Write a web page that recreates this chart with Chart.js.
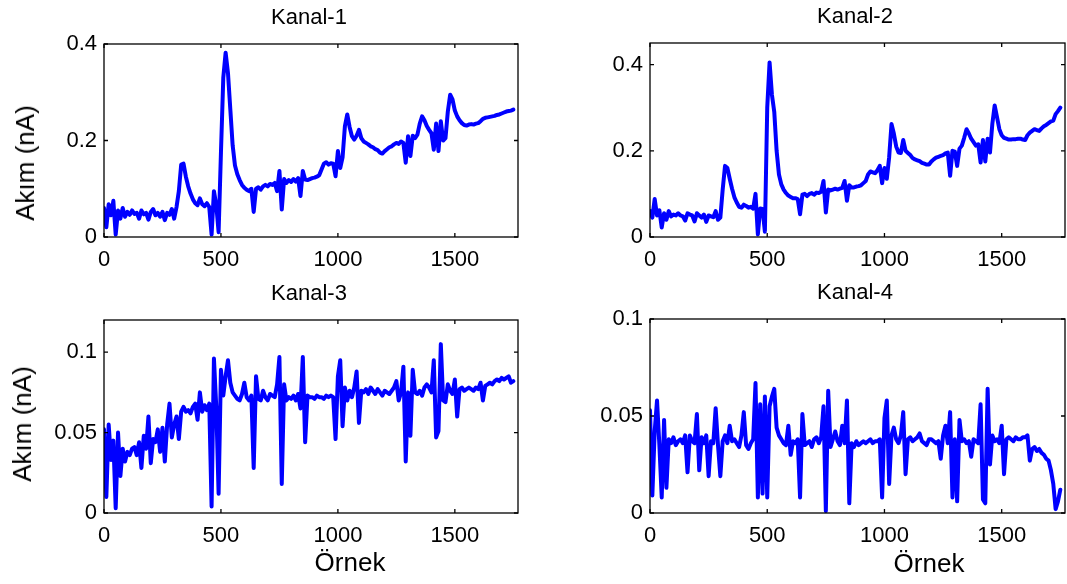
<!DOCTYPE html>
<html>
<head>
<meta charset="utf-8">
<script src="https://cdn.jsdelivr.net/npm/chart.js@4.4.0/dist/chart.umd.min.js"></script>
<style>
  body { margin: 0; background: #fff; width: 1067px; height: 584px; overflow: hidden; position: relative;
         font-family: "Liberation Sans", Arial, sans-serif; color: #000; }
  canvas { position: absolute; }
  .lbl { position: absolute; white-space: nowrap; line-height: 1; transform: translate(-50%, -50%); }
  .rot { transform: translate(-50%, -50%) rotate(-90deg); }
</style>
</head>
<body>
<script>
// sample index (Örnek), one reading every 10 samples
const samples = Array.from({ length: 176 }, (_, i) => i * 10);

const xTicks = [0, 500, 1000, 1500];
const yTicks12 = [0, 0.2, 0.4];
const yTicks3 = [0, 0.05, 0.1];
const yTicks4 = [0, 0.05, 0.1];

const titles = ["Kanal-1", "Kanal-2", "Kanal-3", "Kanal-4"];

// Kanal-1 akım (nA)
const kanal1 = [
  0.060, 0.020, 0.068, 0.045, 0.075, 0.005, 0.055, 0.038, 0.060, 0.042,
  0.052, 0.046, 0.055, 0.048, 0.050, 0.038, 0.055, 0.047, 0.050, 0.036,
  0.052, 0.058, 0.045, 0.050, 0.042, 0.052, 0.035, 0.050, 0.046, 0.058,
  0.038, 0.062, 0.095, 0.150, 0.152, 0.125, 0.105, 0.090, 0.078, 0.070,
  0.066, 0.080, 0.068, 0.064, 0.070, 0.062, 0.005, 0.095, 0.066, 0.010,
  0.175, 0.330, 0.382, 0.340, 0.265, 0.190, 0.148, 0.130, 0.118, 0.108,
  0.102, 0.098, 0.095, 0.100, 0.052, 0.100, 0.103, 0.098, 0.105, 0.108,
  0.105, 0.110, 0.108, 0.112, 0.095, 0.137, 0.057, 0.120, 0.112, 0.118,
  0.114, 0.120, 0.115, 0.122, 0.085, 0.137, 0.119, 0.118, 0.120, 0.122,
  0.123, 0.125, 0.128, 0.140, 0.152, 0.155, 0.150, 0.153, 0.152, 0.126,
  0.178, 0.143, 0.165, 0.230, 0.254, 0.228, 0.209, 0.202, 0.210, 0.222,
  0.205, 0.198, 0.195, 0.192, 0.188, 0.186, 0.182, 0.180, 0.175, 0.173,
  0.178, 0.182, 0.186, 0.188, 0.192, 0.195, 0.193, 0.198, 0.195, 0.154,
  0.209, 0.168, 0.210, 0.205, 0.212, 0.235, 0.250, 0.242, 0.230, 0.222,
  0.215, 0.181, 0.235, 0.178, 0.240, 0.200, 0.205, 0.260, 0.295, 0.285,
  0.262, 0.250, 0.242, 0.236, 0.232, 0.231, 0.233, 0.234, 0.233, 0.235,
  0.236, 0.240, 0.245, 0.247, 0.248, 0.249, 0.250, 0.251, 0.253, 0.254,
  0.256, 0.258, 0.260, 0.261, 0.262, 0.264
];

// Kanal-2
const kanal2 = [
  0.060, 0.045, 0.088, 0.050, 0.062, 0.022, 0.055, 0.040, 0.060, 0.048,
  0.052, 0.050, 0.055, 0.050, 0.048, 0.038, 0.055, 0.052, 0.050, 0.036,
  0.055, 0.050, 0.045, 0.052, 0.035, 0.050, 0.048, 0.046, 0.060, 0.040,
  0.045, 0.110, 0.165, 0.160, 0.135, 0.112, 0.092, 0.080, 0.070, 0.068,
  0.075, 0.072, 0.068, 0.070, 0.066, 0.100, 0.006, 0.066, 0.065, 0.012,
  0.300, 0.405, 0.330, 0.290, 0.200, 0.145, 0.122, 0.110, 0.102, 0.096,
  0.093, 0.090, 0.090, 0.088, 0.053, 0.098, 0.100, 0.095, 0.100, 0.102,
  0.098, 0.103, 0.102, 0.105, 0.130, 0.057, 0.110, 0.108, 0.110, 0.112,
  0.110, 0.112, 0.114, 0.130, 0.084, 0.120, 0.115, 0.115, 0.117, 0.118,
  0.120, 0.125, 0.130, 0.145, 0.152, 0.150, 0.148, 0.155, 0.165, 0.125,
  0.160, 0.135, 0.185, 0.262, 0.240, 0.210, 0.196, 0.195, 0.225, 0.200,
  0.195, 0.190, 0.183, 0.180, 0.178, 0.176, 0.172, 0.170, 0.168, 0.168,
  0.175, 0.180, 0.184, 0.186, 0.188, 0.190, 0.194, 0.196, 0.142, 0.200,
  0.198, 0.165, 0.205, 0.212, 0.230, 0.250, 0.240, 0.228, 0.220, 0.212,
  0.215, 0.173, 0.225, 0.175, 0.228, 0.196, 0.262, 0.305, 0.278, 0.250,
  0.236, 0.230, 0.228, 0.226, 0.226, 0.227, 0.227, 0.228, 0.228, 0.226,
  0.225, 0.236, 0.242, 0.246, 0.250, 0.248, 0.246, 0.252, 0.257, 0.260,
  0.264, 0.268, 0.270, 0.285, 0.292, 0.300
];

// Kanal-3
const kanal3 = [
  0.052, 0.010, 0.055, 0.033, 0.045, 0.003, 0.050, 0.023, 0.040, 0.032,
  0.038, 0.036, 0.040, 0.041, 0.036, 0.044, 0.028, 0.048, 0.040, 0.060,
  0.031, 0.046, 0.044, 0.052, 0.038, 0.053, 0.032, 0.055, 0.068, 0.047,
  0.055, 0.060, 0.046, 0.063, 0.066, 0.063, 0.064, 0.062, 0.066, 0.068,
  0.058, 0.075, 0.063, 0.067, 0.064, 0.068, 0.004, 0.096, 0.066, 0.012,
  0.089, 0.073, 0.085, 0.095, 0.081, 0.075, 0.073, 0.071, 0.070, 0.074,
  0.081, 0.072, 0.070, 0.073, 0.028, 0.085, 0.071, 0.070, 0.076, 0.072,
  0.070, 0.074, 0.073, 0.072, 0.080, 0.097, 0.018, 0.080, 0.070, 0.072,
  0.071, 0.073, 0.070, 0.074, 0.065, 0.097, 0.044, 0.073, 0.072, 0.072,
  0.071, 0.073, 0.072, 0.072, 0.071, 0.073, 0.072, 0.073, 0.072, 0.046,
  0.085, 0.095, 0.054, 0.078, 0.070, 0.076, 0.072, 0.078, 0.088, 0.056,
  0.076, 0.075, 0.077, 0.074, 0.078, 0.076, 0.074, 0.077, 0.075, 0.073,
  0.076, 0.075, 0.074, 0.076, 0.078, 0.082, 0.070, 0.075, 0.091, 0.032,
  0.075, 0.048, 0.089, 0.075, 0.074, 0.076, 0.073, 0.078, 0.080, 0.078,
  0.075, 0.095, 0.047, 0.051, 0.105, 0.070, 0.069, 0.080, 0.076, 0.074,
  0.083, 0.060, 0.077, 0.078, 0.076, 0.077, 0.078, 0.077, 0.076, 0.078,
  0.077, 0.081, 0.070, 0.079, 0.080, 0.081, 0.080, 0.082, 0.083, 0.082,
  0.084, 0.083, 0.084, 0.085, 0.081, 0.082
];

// Kanal-4
const kanal4 = [
  0.053, 0.009, 0.042, 0.058, 0.035, 0.008, 0.048, 0.013, 0.038, 0.036,
  0.039, 0.035, 0.037, 0.038, 0.036, 0.040, 0.021, 0.040, 0.037, 0.036,
  0.051, 0.022, 0.039, 0.036, 0.040, 0.019, 0.037, 0.036, 0.054, 0.035,
  0.019, 0.037, 0.040, 0.036, 0.045, 0.037, 0.038, 0.036, 0.034, 0.040,
  0.052, 0.035, 0.033, 0.036, 0.038, 0.067, 0.008, 0.056, 0.010, 0.060,
  0.008, 0.055, 0.060, 0.064, 0.044, 0.040, 0.038, 0.036, 0.035, 0.045,
  0.030, 0.037, 0.036, 0.038, 0.008, 0.051, 0.035, 0.036, 0.037, 0.034,
  0.038, 0.039, 0.036, 0.039, 0.055, 0.001, 0.063, 0.034, 0.038, 0.042,
  0.037, 0.035, 0.045, 0.036, 0.058, 0.005, 0.036, 0.034, 0.037, 0.035,
  0.036, 0.037, 0.036, 0.037, 0.038, 0.036, 0.037, 0.037, 0.038, 0.008,
  0.049, 0.058, 0.015, 0.040, 0.044, 0.038, 0.036, 0.040, 0.052, 0.020,
  0.038, 0.039, 0.037, 0.038, 0.039, 0.041, 0.037, 0.036, 0.035, 0.038,
  0.038, 0.037, 0.036, 0.037, 0.028, 0.040, 0.045, 0.036, 0.052, 0.008,
  0.038, 0.006, 0.048, 0.037, 0.038, 0.036, 0.037, 0.029, 0.038, 0.037,
  0.036, 0.056, 0.007, 0.005, 0.064, 0.025, 0.040, 0.037, 0.038, 0.036,
  0.045, 0.020, 0.038, 0.039, 0.038, 0.037, 0.039, 0.038, 0.038, 0.039,
  0.039, 0.040, 0.027, 0.033, 0.034, 0.032, 0.033, 0.031, 0.030, 0.028,
  0.027, 0.022, 0.015, 0.002, 0.006, 0.012
];

// --- layout (pixel boxes of each plot area) ---
const YAXIS_W = 104, XAXIS_H = 50, PAD_TOP = 24, PAD_RIGHT = 6;
const FONT = '"Liberation Sans", Arial, sans-serif';

const panels = [
  { data: kanal1, title: titles[0], yMax: 0.4,  yTicks: yTicks12, box: [104, 44, 518, 237], tx: 309, ylab: [25, 163], xlab: null },
  { data: kanal2, title: titles[1], yMax: 0.45, yTicks: yTicks12, box: [650, 43, 1065, 237], tx: 855, ylab: null, xlab: null },
  { data: kanal3, title: titles[2], yMax: 0.12, yTicks: yTicks3,  box: [104, 320, 518, 513], tx: 309, ylab: [22, 424], xlab: [350, 562] },
  { data: kanal4, title: titles[3], yMax: 0.1,  yTicks: yTicks4,  box: [650, 319, 1065, 513], tx: 855, ylab: null, xlab: [929, 563] }
];

// MATLAB style box with inward ticks on all four sides
const matlabBox = {
  id: "matlabBox",
  afterDatasetsDraw(chart) {
    const { ctx, chartArea: a, scales: { x, y } } = chart;
    ctx.save();
    ctx.strokeStyle = "#000";
    ctx.lineWidth = 1.3;
    ctx.strokeRect(a.left, a.top, a.right - a.left, a.bottom - a.top);
    ctx.beginPath();
    x.ticks.forEach(t => {
      const px = x.getPixelForValue(t.value);
      ctx.moveTo(px, a.bottom); ctx.lineTo(px, a.bottom - 4);
      ctx.moveTo(px, a.top); ctx.lineTo(px, a.top + 4);
    });
    y.ticks.forEach(t => {
      const py = y.getPixelForValue(t.value);
      ctx.moveTo(a.left, py); ctx.lineTo(a.left + 4, py);
      ctx.moveTo(a.right, py); ctx.lineTo(a.right - 4, py);
    });
    ctx.stroke();
    ctx.restore();
  }
};

function addLabel(text, x, y, size, rotate) {
  const d = document.createElement("div");
  d.className = "lbl" + (rotate ? " rot" : "");
  d.textContent = text;
  d.style.left = x + "px";
  d.style.top = y + "px";
  d.style.fontSize = size + "px";
  document.body.appendChild(d);
}

panels.forEach(p => {
  const [L, T, R, B] = p.box;
  const cv = document.createElement("canvas");
  cv.width = YAXIS_W + (R - L) + PAD_RIGHT;
  cv.height = PAD_TOP + (B - T) + XAXIS_H;
  cv.style.left = (L - YAXIS_W) + "px";
  cv.style.top = (T - PAD_TOP) + "px";
  document.body.appendChild(cv);

  new Chart(cv.getContext("2d"), {
    type: "line",
    data: {
      datasets: [{
        data: p.data.map((v, i) => ({ x: samples[i], y: v })),
        borderColor: "#0000ff",
        borderWidth: 4,
        borderJoinStyle: "round",
        borderCapStyle: "round",
        pointRadius: 0,
        tension: 0
      }]
    },
    options: {
      responsive: false,
      animation: false,
      events: [],
      layout: { padding: { top: PAD_TOP, right: PAD_RIGHT, bottom: 0, left: 0 } },
      plugins: { legend: { display: false }, tooltip: { enabled: false } },
      scales: {
        x: {
          type: "linear",
          min: 0,
          max: 1770,
          grid: { display: false, drawTicks: false },
          border: { display: false },
          afterBuildTicks: s => { s.ticks = xTicks.map(v => ({ value: v })); },
          afterFit: s => { s.height = XAXIS_H; },
          ticks: {
            color: "#000",
            padding: 10,
            maxRotation: 0,
            font: { family: FONT, size: 22 },
            callback: v => String(v)
          }
        },
        y: {
          type: "linear",
          min: 0,
          max: p.yMax,
          grid: { display: false, drawTicks: false },
          border: { display: false },
          afterBuildTicks: s => { s.ticks = p.yTicks.map(v => ({ value: v })); },
          afterFit: s => { s.width = YAXIS_W; },
          ticks: {
            color: "#000",
            padding: 7,
            font: { family: FONT, size: 22 },
            callback: v => String(v)
          }
        }
      }
    },
    plugins: [matlabBox]
  });

  addLabel(p.title, p.tx, T - 27, 22, false);
  if (p.ylab) addLabel("Akım (nA)", p.ylab[0], p.ylab[1], 26, true);
  if (p.xlab) addLabel("Örnek", p.xlab[0], p.xlab[1], 26, false);
});
</script>
</body>
</html>
